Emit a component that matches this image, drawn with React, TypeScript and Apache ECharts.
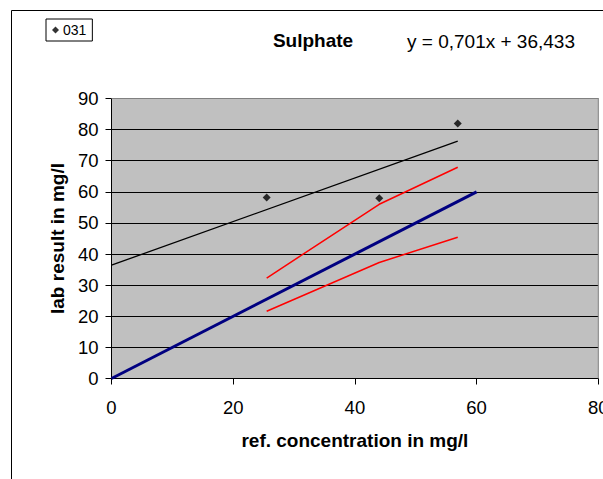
import React, { useEffect, useRef } from "react";
import * as echarts from "echarts";

const pointsX = [25.5, 44.0, 56.9];
const pointsY = [58.2, 57.9, 82.0];
const trendX = [0, 56.9];
const trendY = [36.433, 76.32];
const idealX = [0, 60];
const idealY = [0, 60];
const upperX = [25.5, 44.0, 56.9];
const upperY = [32.3, 56.0, 67.9];
const lowerX = [25.5, 44.0, 56.9];
const lowerY = [21.6, 37.3, 45.4];
const titleText = "Sulphate";
const equationText = "y = 0,701x + 36,433";
const seriesName = "031";

const zip = (xs: number[], ys: number[]) => xs.map((x, i) => [x, ys[i]]);

const FONT = "'Liberation Sans', Arial, sans-serif";

export default function App() {
  const ref = useRef<HTMLDivElement>(null);
  useEffect(() => {
    document.body.style.margin = "0";
    const chart = echarts.init(ref.current!, null, { renderer: "svg" });
    const gridLeft = 111.5;
    const gridTop = 98.5;
    const plotRight = 598.3;
    const plotBottom = 378.5;
    chart.setOption({
      animation: false,
      backgroundColor: "#ffffff",
      textStyle: { fontFamily: FONT },
      legend: {
        data: [{ name: seriesName, icon: "diamond" }],
        left: 46,
        top: 19,
        itemWidth: 7,
        itemHeight: 7,
        itemGap: 4,
        padding: [4, 6, 4, 6],
        borderColor: "#000",
        borderWidth: 1,
        backgroundColor: "#fff",
        textStyle: { fontFamily: FONT, fontSize: 14, color: "#000", padding: [0, 0, 0, -1] },
      },
      graphic: [
        {
          type: "rect",
          shape: { x: 11.5, y: 10.5, width: 800, height: 800 },
          style: { fill: "none", stroke: "#000", lineWidth: 1 },
          silent: true,
          z: -10,
        },
        {
          type: "text",
          x: 313,
          y: 40,
          style: {
            text: titleText,
            font: `bold 19px ${FONT}`,
            fill: "#000",
            align: "center",
            verticalAlign: "middle",
          },
        },
        {
          type: "text",
          x: 407,
          y: 41,
          style: {
            text: equationText,
            font: `19px ${FONT}`,
            fill: "#000",
            align: "left",
            verticalAlign: "middle",
          },
        },
        {
          type: "polyline",
          shape: { points: [[gridLeft, gridTop], [plotRight, gridTop], [plotRight, plotBottom]] },
          style: { stroke: "#808080", lineWidth: 1, fill: "none" },
          z: 5,
        },
      ],
      grid: {
        left: gridLeft,
        top: gridTop,
        right: 603 - plotRight,
        bottom: 479 - plotBottom,
        outerBoundsMode: "none",
        containLabel: false,
        show: true,
        backgroundColor: "#c0c0c0",
        borderWidth: 0,
      },
      xAxis: {
        type: "value",
        min: 0,
        max: 80,
        interval: 20,
        name: "ref. concentration in mg/l",
        nameLocation: "middle",
        nameGap: 52,
        nameTextStyle: { fontFamily: FONT, fontSize: 19, fontWeight: "bold", color: "#000" },
        axisLine: { show: true, onZero: false, lineStyle: { color: "#000", width: 1 } },
        axisTick: { show: true, inside: false, length: 6, lineStyle: { color: "#000" } },
        axisLabel: { fontFamily: FONT, fontSize: 18.5, color: "#000", margin: 19, hideOverlap: false },
        splitLine: { show: false },
      },
      yAxis: {
        type: "value",
        min: 0,
        max: 90,
        interval: 10,
        name: "lab result in mg/l",
        nameLocation: "middle",
        nameGap: 44,
        nameRotate: 90,
        nameTextStyle: { fontFamily: FONT, fontSize: 19, fontWeight: "bold", color: "#000" },
        axisLine: { show: true, onZero: false, lineStyle: { color: "#000", width: 1 } },
        axisTick: { show: true, inside: false, length: 6, lineStyle: { color: "#000" } },
        axisLabel: { fontFamily: FONT, fontSize: 18.5, color: "#000", margin: 13 },
        splitLine: { show: true, lineStyle: { color: "#000", width: 1 } },
      },
      series: [
        {
          name: seriesName,
          type: "scatter",
          symbol: "diamond",
          symbolSize: 8,
          itemStyle: { color: "#000" },
          data: zip(pointsX, pointsY),
          z: 10,
        },
        {
          name: "trend",
          type: "line",
          symbol: "none",
          lineStyle: { color: "#000", width: 1.3 },
          data: zip(trendX, trendY),
        },
        {
          name: "ideal",
          type: "line",
          symbol: "none",
          lineStyle: { color: "#000080", width: 3 },
          data: zip(idealX, idealY),
        },
        {
          name: "upper",
          type: "line",
          symbol: "none",
          lineStyle: { color: "#ff0000", width: 1.5 },
          data: zip(upperX, upperY),
        },
        {
          name: "lower",
          type: "line",
          symbol: "none",
          lineStyle: { color: "#ff0000", width: 1.5 },
          data: zip(lowerX, lowerY),
        },
      ],
    });
    return () => chart.dispose();
  }, []);
  return (
    <div
      ref={ref}
      style={{ position: "absolute", left: 0, top: 0, width: 603, height: 479 }}
    />
  );
}
